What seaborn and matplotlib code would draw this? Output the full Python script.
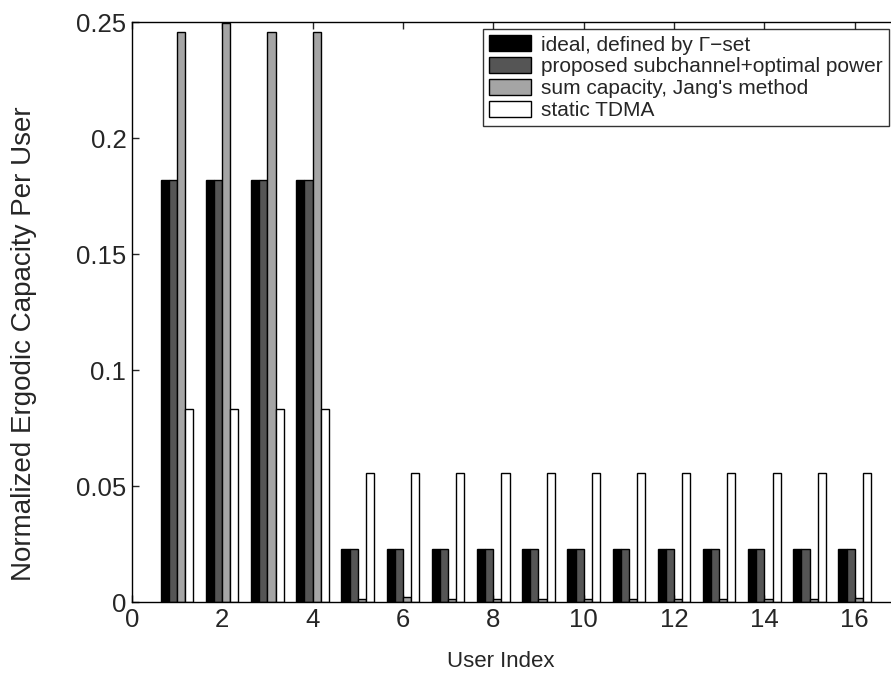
import pandas as pd
import matplotlib
matplotlib.use('Agg')
import matplotlib.pyplot as plt
import seaborn as sns

users = list(range(1, 17))
methods = ['ideal, defined by \u0393\u2212set',
           'proposed subchannel+optimal power',
           "sum capacity, Jang's method",
           'static TDMA']
ideal = [0.182, 0.182, 0.182, 0.182] + [0.0227] * 12
proposed = [0.182, 0.182, 0.182, 0.182] + [0.0227] * 12
jang = [0.246, 0.2495, 0.246, 0.246] + [0.0012, 0.002, 0.0012, 0.0012, 0.0012, 0.0015,
                                        0.0012, 0.0012, 0.0012, 0.0012, 0.0012, 0.0018]
tdma = [0.0833] * 4 + [0.0556] * 12
colors = ['#000000', '#555555', '#a5a5a5', '#ffffff']

rows = []
for m, vals in zip(methods, [ideal, proposed, jang, tdma]):
    for u, v in zip(users, vals):
        rows.append({'user': u, 'method': m, 'cap': v})
df = pd.DataFrame(rows)

sns.set_style('ticks')
plt.rcParams['font.family'] = ['Liberation Sans', 'DejaVu Sans']

fig = plt.figure(figsize=(8.91, 6.75), dpi=100)
ax = fig.add_axes([0.148, 0.108, 0.862, 0.859])

sns.barplot(data=df, x='user', y='cap', hue='method', hue_order=methods,
            palette=dict(zip(methods, colors)), native_scale=True, width=0.72,
            errorbar=None, edgecolor='black', linewidth=1.0, saturation=1, ax=ax)

ax.set_xlim(0, 17)
ax.set_ylim(0, 0.25)
ax.set_xticks(range(0, 17, 2))
ax.set_yticks([0, 0.05, 0.1, 0.15, 0.2, 0.25])
ax.set_yticklabels(['0', '0.05', '0.1', '0.15', '0.2', '0.25'])
ax.tick_params(direction='in', top=True, length=5, width=1, labelsize=18.5, pad=4)
for s in ax.spines.values():
    s.set_linewidth(1)
    s.set_color('black')
ax.set_xlabel('User Index', fontsize=16)
ax.xaxis.set_label_coords(0.48, -0.085)
ax.set_ylabel('Normalized Ergodic Capacity Per User', fontsize=20)
ax.yaxis.set_label_coords(-0.124, 0.445)

leg = ax.legend(loc='upper left', bbox_to_anchor=(0.457, 0.988), borderaxespad=0,
                fontsize=15, frameon=True, fancybox=False, edgecolor='black',
                handlelength=2.0, handleheight=0.8, labelspacing=0.12,
                handletextpad=0.5, borderpad=0.3)
leg.get_frame().set_linewidth(1)

fig.savefig('out.png', dpi=100)
